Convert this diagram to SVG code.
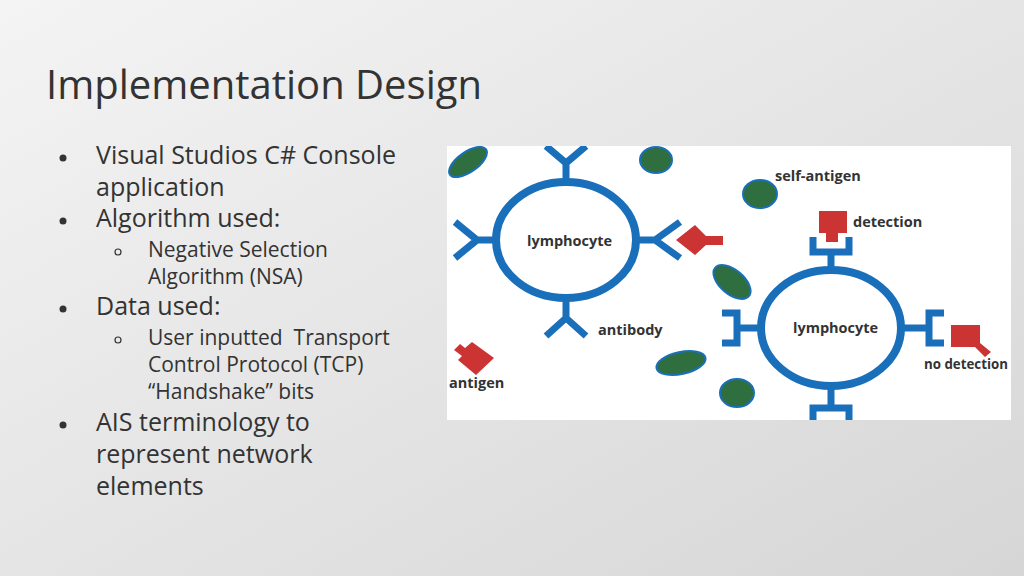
<svg xmlns="http://www.w3.org/2000/svg" width="1024" height="576" viewBox="0 0 1024 576">
<defs>
<linearGradient id="bg" x1="0" y1="0" x2="1" y2="1"><stop offset="0" stop-color="#f4f4f4"/><stop offset="1" stop-color="#d6d6d6"/></linearGradient>
<style>
.t{font-family:"Open Sans","Liberation Sans",sans-serif;fill:#333}
.l1{font-size:25px}.l2{font-size:21px}
.lb{font-family:"Open Sans","Liberation Sans",sans-serif;font-weight:bold;font-size:14.5px;fill:#333}
.c{fill:#fff;stroke:#1a6fba;stroke-width:8}
.ab{fill:none;stroke:#1a6fba;stroke-width:7}
.g{fill:#2f6e3f;stroke:#1a6fba;stroke-width:2}
.r{fill:#cc3333}
</style>
</defs>
<rect width="1024" height="576" fill="url(#bg)"/>
<text class="t" x="46" y="99" font-size="40">Implementation Design</text>
<g id="bullets">
<circle cx="63" cy="158" r="3.5" fill="#333"/>
<circle cx="63" cy="221" r="3.5" fill="#333"/>
<circle cx="63" cy="309" r="3.5" fill="#333"/>
<circle cx="63" cy="425" r="3.5" fill="#333"/>
<circle cx="118" cy="252" r="3" fill="none" stroke="#333" stroke-width="1.2"/>
<circle cx="118" cy="340" r="3" fill="none" stroke="#333" stroke-width="1.2"/>
<text class="t l1" x="96" y="164">Visual Studios C# Console</text>
<text class="t l1" x="96" y="196">application</text>
<text class="t l1" x="96" y="227">Algorithm used:</text>
<text class="t l2" x="148" y="257">Negative Selection</text>
<text class="t l2" x="148" y="284">Algorithm (NSA)</text>
<text class="t l1" x="96" y="315">Data used:</text>
<text class="t l2" x="148" y="345" xml:space="preserve">User inputted  Transport</text>
<text class="t l2" x="148" y="372">Control Protocol (TCP)</text>
<text class="t l2" x="148" y="399">“Handshake” bits</text>
<text class="t l1" x="96" y="431">AIS terminology to</text>
<text class="t l1" x="96" y="463">represent network</text>
<text class="t l1" x="96" y="495">elements</text>
</g>
<g id="picture">
<rect x="447" y="146" width="564" height="274" fill="#fff"/>
<svg x="447" y="146" width="564" height="274" viewBox="447 146 564 274" overflow="hidden">
<g id="cell1">
<path class="ab" d="M566 180V163M566 163L546 146M566 163L586 146M493 240H477M477 240L455 222M477 240L455 258M639 240H655M655 240L680 222M655 240L680 258M566 300V318M566 318L546 336M566 318L586 336"/>
<ellipse class="c" cx="566" cy="240" rx="70" ry="58"/>
<text class="lb" x="527" y="246">lymphocyte</text>
</g>
<g id="cell2">
<path class="ab" d="M831 271V255M813 237V252H849V237M761 328H740M722 313H737V343H722M901 328H926M944 313H929V343H944M831 385V405M813 422V408H849V422"/>
<ellipse class="c" cx="831" cy="328" rx="70" ry="58"/>
<text class="lb" x="793" y="333">lymphocyte</text>
</g>
<g id="antigens">
<polygon class="r" points="676,240 695,225 706,236 723,236 723,245 706,245 695,255"/>
<polygon class="r" points="819,211 847,211 847,233 838,233 838,242 826,242 826,233 819,233"/>
<polygon class="r" points="951,325 980,325 980,343 991,352 985,357 975,347 951,347"/>
<polygon class="r" points="454,350 460,344 465,348 472,342 494,358 476,375 458,360 462,356"/>
</g>
<g id="self">
<ellipse class="g" cx="468" cy="162" rx="22" ry="10" transform="rotate(-35 468 162)"/>
<ellipse class="g" cx="656" cy="160" rx="16" ry="13"/>
<ellipse class="g" cx="760" cy="194" rx="17" ry="14"/>
<ellipse class="g" cx="732" cy="282" rx="22" ry="12" transform="rotate(40 732 282)"/>
<ellipse class="g" cx="681" cy="363" rx="25" ry="11" transform="rotate(-12 681 363)"/>
<ellipse class="g" cx="737" cy="393" rx="17" ry="14"/>
</g>
<g id="labels">
<text class="lb" x="775" y="181">self-antigen</text>
<text class="lb" x="853" y="227">detection</text>
<text class="lb" x="598" y="335">antibody</text>
<text class="lb" x="924" y="369" textLength="84" lengthAdjust="spacingAndGlyphs">no detection</text>
<text class="lb" x="449" y="388">antigen</text>
</g>
</svg>
</g>
</svg>
